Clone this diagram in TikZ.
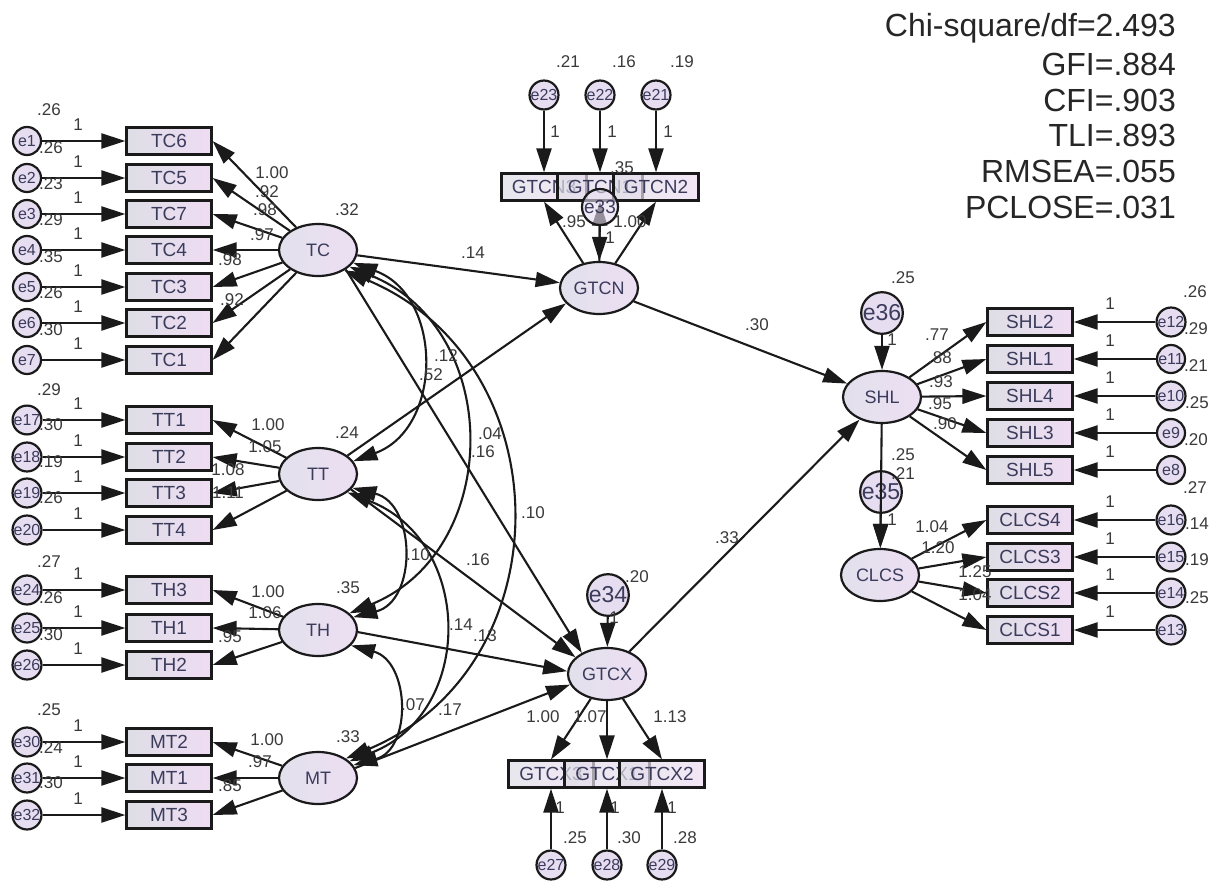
\documentclass[tikz,border=0pt]{standalone}
\usepackage{fontspec}
\setmainfont{Liberation Sans}
\usetikzlibrary{arrows.meta,shapes.geometric}
\definecolor{ln}{HTML}{1A1A1A}
\definecolor{boxL}{HTML}{DEDEE6}
\definecolor{boxR}{HTML}{EFDCF3}
\definecolor{latL}{HTML}{E2E0EC}
\definecolor{latR}{HTML}{EDDFF3}
\definecolor{errF}{HTML}{E6DDF0}
\definecolor{txt}{HTML}{3B3B5C}
\definecolor{lab}{HTML}{3A3A3A}
\tikzset{
 obs/.style={rectangle, draw=ln, line width=2.2pt, minimum width=85pt, minimum height=27pt, inner sep=0pt, left color=boxL, right color=boxR, text=txt, font=\fontsize{19}{21}\selectfont},
 lat/.style={ellipse, draw=ln, line width=2.2pt, minimum width=78pt, minimum height=52pt, inner sep=0pt, left color=latL, right color=latR, text=txt, font=\fontsize{18}{20}\selectfont},
 err/.style={circle, draw=ln, line width=2.2pt, minimum size=28pt, inner sep=0pt, fill=errF, text=txt, font=\fontsize{16}{18}\selectfont},
 errbig/.style={err, minimum size=40pt, font=\fontsize{23}{25}\selectfont},
 arr/.style={draw=ln, line width=2.1pt, -{Triangle[length=24pt,width=15pt]}},
 cov/.style={draw=ln, line width=2.1pt, {Triangle[length=24pt,width=15pt]}-{Triangle[length=24pt,width=15pt]}},
 lbl/.style={inner sep=0pt, text=lab, font=\fontsize{17}{19}\selectfont},
 fitstat/.style={inner sep=0pt, anchor=east, text=black!85, font=\fontsize{32}{34}\selectfont},
 strip/.style={obs, fill opacity=0.7, text opacity=1},
}
\begin{document}
\begin{tikzpicture}[x=1pt,y=-1pt]
\useasboundingbox[fill=white] (0,0) rectangle (1213,886);

% fit statistics
\node[fitstat] (fit1) at (1176,28) {Chi-square/df=2.493};
\node[fitstat] (fit2) at (1176,64) {GFI=.884};
\node[fitstat] (fit3) at (1176,100) {CFI=.903};
\node[fitstat] (fit4) at (1176,135) {TLI=.893};
\node[fitstat] (fit5) at (1176,171) {RMSEA=.055};
\node[fitstat] (fit6) at (1176,207) {PCLOSE=.031};

% latent variables
\node[lat] (TC) at (318,250) {TC};
\node[lat] (TT) at (318,474) {TT};
\node[lat] (TH) at (318,630) {TH};
\node[lat] (MT) at (318,778) {MT};
\node[lat] (GTCN) at (599,288) {GTCN};
\node[lat] (GTCX) at (607,674) {GTCX};
\node[lat] (SHL) at (882,397) {SHL};
\node[lat] (CLCS) at (880,575) {CLCS};

% left indicators
\foreach \n/\e/\y in {TC6/e1/141, TC5/e2/178, TC7/e3/214, TC4/e4/250, TC3/e5/287, TC2/e6/323, TC1/e7/360, TT1/e17/420, TT2/e18/457, TT3/e19/493, TT4/e20/530, TH3/e24/590, TH1/e25/628, TH2/e26/665, MT2/e30/742, MT1/e31/778, MT3/e32/815} {
  \node[obs] (\n) at (169,\y) {\n};
  \node[err] (\e) at (27,\y) {\e};
  \draw[arr] (\e) -- (\n);
  \node[lbl] (one-\e) at (78,\y-16) {1};
}
\foreach \n in {TC6,TC5,TC7,TC4,TC3,TC2,TC1} \draw[arr] (TC) -- (\n.east);
\foreach \n in {TT1,TT2,TT3,TT4} \draw[arr] (TT) -- (\n.east);
\foreach \n in {TH3,TH1,TH2} \draw[arr] (TH) -- (\n.east);
\foreach \n in {MT2,MT1,MT3} \draw[arr] (MT) -- (\n.east);

% right indicators
\foreach \n/\e/\y in {SHL2/e12/322, SHL1/e11/359, SHL4/e10/396, SHL3/e9/433, SHL5/e8/470, CLCS4/e16/520, CLCS3/e15/557, CLCS2/e14/593, CLCS1/e13/630} {
  \node[obs] (\n) at (1030,\y) {\n};
  \node[err] (\e) at (1171,\y) {\e};
  \draw[arr] (\e) -- (\n);
  \node[lbl] (one-\e) at (1110,\y-18) {1};
}
\foreach \n in {SHL2,SHL1,SHL4,SHL3,SHL5} \draw[arr] (SHL) -- (\n.west);
\foreach \n in {CLCS4,CLCS3,CLCS2,CLCS1} \draw[arr] (CLCS) -- (\n.west);

% GTCN indicators (overlapping strip)
\node[strip] (GTCN3) at (544,187) {GTCN3};
\node[strip] (GTCN1) at (600,187) {GTCN1};
\node[strip] (GTCN2) at (656,187) {GTCN2};
\foreach \n/\e/\x in {GTCN3/e23/544, GTCN1/e22/600, GTCN2/e21/656} {
  \node[err] (\e) at (\x,95) {\e};
  \draw[arr] (\e) -- (\n);
  \draw[arr] (GTCN) -- (\n.south);
}
\node[errbig, minimum size=36pt, fill opacity=0.6, text opacity=1, font=\fontsize{19}{21}\selectfont] (e33) at (600,207) {e33};
\draw[arr] (e33) -- (GTCN);

% GTCX indicators (overlapping strip)
\node[strip] (GTCX3) at (551,774) {GTCX3};
\node[strip] (GTCX1) at (607,774) {GTCX1};
\node[strip] (GTCX2) at (662,774) {GTCX2};
\foreach \n/\e/\x in {GTCX3/e27/551, GTCX1/e28/607, GTCX2/e29/662} {
  \node[err] (\e) at (\x,865) {\e};
  \draw[arr] (\e) -- (\n);
  \draw[arr] (GTCX) -- (\n.north);
}
\node[errbig] (e34) at (608,595) {e34};
\draw[arr] (e34) -- (GTCX);

% SHL / CLCS errors
\node[errbig] (e36) at (882,313) {e36};
\draw[arr] (e36) -- (SHL);
\node[errbig] (e35) at (881,492) {e35};
\draw[arr] (SHL) -- (CLCS);
\draw[arr] (e35) -- (CLCS);

% structural paths
\draw[arr] (TC) -- (GTCN);
\draw[arr] (TT.32) -- (GTCN.205);
\draw[arr] (TC.-35) -- (GTCX.140);
\draw[arr] (TT.-25) -- (GTCX.152);
\draw[arr] (TH.-3) -- (GTCX.176);
\draw[arr] (MT.15) -- (GTCX.196);
\draw[arr] (GTCN) -- (SHL);
\draw[arr] (GTCX) -- (SHL);

% covariances
\draw[cov] (TC.-20) .. controls +(90,33) and +(90,-33) .. (TT.20);
\draw[cov] (TC.-28) .. controls +(154,63) and +(154,-63) .. (TH.28);
\draw[cov] (TC.-38) .. controls +(220,91) and +(220,-91) .. (MT.35);
\draw[cov] (TT.-22) .. controls +(64,16) and +(64,-16) .. (TH.20);
\draw[cov] (TT.-32) .. controls +(126,49) and +(126,-49) .. (MT.28);
\draw[cov] (TH.-25) .. controls +(59,16) and +(59,-16) .. (MT.20);

% labels
\foreach \x/\y/\t in {
 49/110/.26, 51/148/.26, 51/184/.23, 51/220/.29, 51/257/.35, 51/293/.26, 51/330/.30,
 49/390/.29, 51/425/.30, 51/462/.19, 51/498/.26,
 49/562/.27, 51/598/.26, 51/635/.30,
 49/710/.25, 51/748/.24, 51/783/.30,
 272/173/1.00, 267/192/.92, 265/210/.98, 262/235/.97, 230/260/.98, 232/300/.92,
 268/425/1.00, 265/447/1.05, 228/470/1.08, 228/493/1.11,
 268/592/1.00, 265/613/1.06, 230/637/.95,
 267/740/1.00, 260/762/.97, 230/786/.85,
 347/210/.32, 347/433/.24, 348/588/.35, 348/737/.33,
 473/253/.14, 431/375/.52, 446/356/.12, 490/434/.04, 483/452/.16,
 533/513/.10, 418/555/.10, 478/560/.16, 461/625/.14, 485/636/.13,
 413/705/.07, 450/710/.17, 757/325/.30, 727/538/.33,
 637/577/.20, 614/618/1, 622/168/.35, 610/238/1, 574/222/.95, 630/222/1.00,
 543/717/1.00, 590/717/1.07, 670/717/1.13,
 555/132/1, 612/132/1, 668/132/1, 568/62/.21, 624/62/.16, 682/62/.19,
 560/808/1, 615/808/1, 672/808/1, 575/838/.25, 629/838/.30, 685/838/.28,
 903/278/.25, 892/340/1,
 937/335/.77, 940/358/.88, 941/382/.93, 940/404/.95, 945/424/.90,
 903/455/.25, 903/474/.21, 892/520/1,
 932/527/1.04, 938/548/1.20, 975/572/1.25, 975/595/1.04,
 1195/292/.26, 1196/329/.29, 1196/366/.21, 1197/403/.25, 1196/440/.20,
 1195/488/.27, 1197/524/.14, 1197/560/.19, 1197/598/.25}
 \node[lbl] (lab-\x-\y) at (\x,\y) {\t};
\end{tikzpicture}
\end{document}
